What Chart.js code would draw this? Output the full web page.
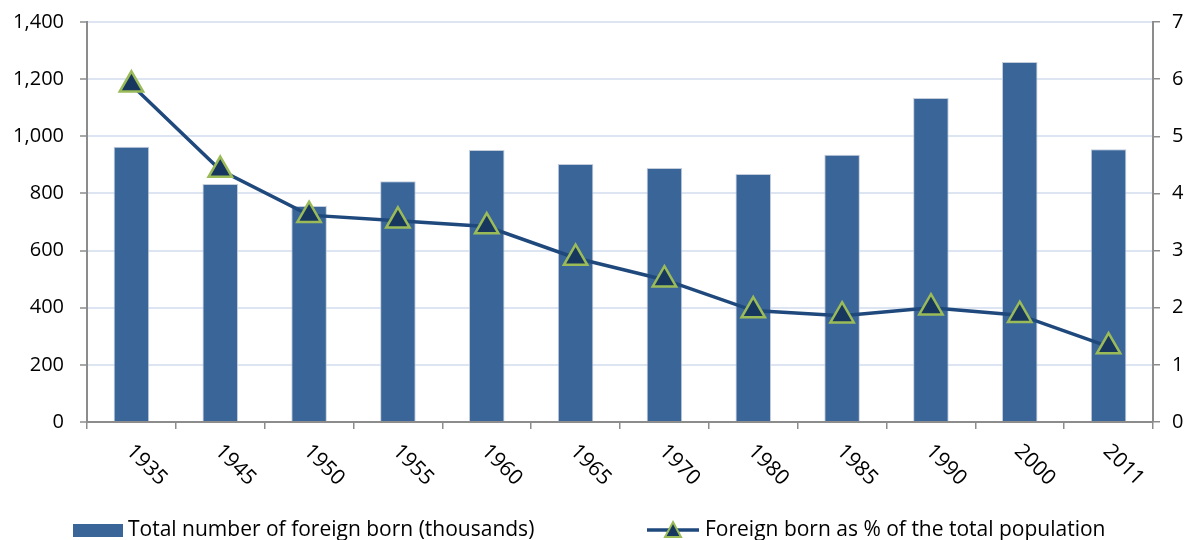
<!DOCTYPE html>
<html>
<head>
<meta charset="utf-8">
<script src="https://cdn.jsdelivr.net/npm/chart.js@4.4.1/dist/chart.umd.min.js"></script>
<style>
  html, body { margin: 0; padding: 0; background: #fff; }
  #wrap { width: 1190px; height: 540px; position: relative; }
</style>
</head>
<body>
<div id="wrap"><canvas id="myChart"></canvas></div>
<script>
// categories and series
var years = ['1935', '1945', '1950', '1955', '1960', '1965', '1970', '1980', '1985', '1990', '2000', '2011'];
var foreignBornThousands = [963, 833, 756, 843, 952, 903, 889, 868, 935, 1134, 1260, 955];
var foreignBornPct = [5.9, 4.41, 3.62, 3.52, 3.42, 2.87, 2.49, 1.95, 1.86, 2.0, 1.87, 1.32];
var leftTicks = [0, 200, 400, 600, 800, 1000, 1200, 1400];
var rightTicks = [0, 1, 2, 3, 4, 5, 6, 7];
var legendLabels = ['Total number of foreign born (thousands)', 'Foreign born as % of the total population'];

const FONT = '"Open Sans", "Noto Sans", sans-serif';
const barColor = '#3A6598';
const lineColor = '#1F497D';
const markerFill = '#17375E';
const markerEdge = '#9BBB59';
const axisGray = '#8C8C8C';

var canvas = document.getElementById('myChart');
var ctx = canvas.getContext('2d');

// rotated x labels (down-right, like the original) + bottom legend
const customDraw = {
    id: 'customDraw',
    afterDraw(chart) {
        const c = chart.ctx;
        const xs = chart.scales.x;
        const area = chart.chartArea;
        c.save();
        c.fillStyle = '#000';
        c.font = '21px ' + FONT;
        c.textAlign = 'left';
        c.textBaseline = 'middle';
        years.forEach((y, i) => {
            const px = xs.getPixelForValue(i);
            c.save();
            c.translate(px - 2, area.bottom + 26);
            c.rotate(Math.PI / 4);
            c.fillText(y, 0, 0);
            c.restore();
        });

        // legend
        const ly = 530;
        c.fillStyle = barColor;
        c.fillRect(73, 524, 50, 13);
        c.fillStyle = '#000';
        c.fillText(legendLabels[0], 128, ly);

        c.strokeStyle = lineColor;
        c.lineWidth = 3.5;
        c.beginPath();
        c.moveTo(647, ly);
        c.lineTo(699, ly);
        c.stroke();
        c.beginPath();
        c.moveTo(673, 522);
        c.lineTo(681, 537);
        c.lineTo(665, 537);
        c.closePath();
        c.fillStyle = markerFill;
        c.fill();
        c.strokeStyle = markerEdge;
        c.lineWidth = 2;
        c.stroke();
        c.fillStyle = '#000';
        c.fillText(legendLabels[1], 705, ly);
        c.restore();
    }
};

const data = {
    labels: years,
    datasets: [{
        type: 'line',
        label: legendLabels[1],
        data: foreignBornPct,
        yAxisID: 'y1',
        borderColor: lineColor,
        borderWidth: 3.5,
        pointStyle: 'triangle',
        pointRadius: 13.5,
        pointBackgroundColor: markerFill,
        pointBorderColor: markerEdge,
        pointBorderWidth: 2.5,
        tension: 0,
        order: 0
    }, {
        type: 'bar',
        label: legendLabels[0],
        data: foreignBornThousands,
        yAxisID: 'y',
        backgroundColor: barColor,
        borderColor: 'rgba(190,200,215,0.9)',
        borderWidth: 1,
        barPercentage: 0.4,
        categoryPercentage: 1,
        order: 1
    }]
};

const config = {
    type: 'bar',
    data: data,
    options: {
        responsive: true,
        maintainAspectRatio: false,
        animation: false,
        layout: { padding: { top: 22, left: 0, right: 0, bottom: 0 } },
        plugins: {
            legend: { display: false },
            tooltip: { enabled: false }
        },
        scales: {
            x: {
                offset: true,
                grid: {
                    offset: true,
                    drawOnChartArea: false,
                    drawTicks: true,
                    tickLength: 7,
                    color: axisGray,
                    lineWidth: 1.5
                },
                border: { color: axisGray, width: 2 },
                ticks: { display: false },
                afterFit: function (scale) { scale.height = 118; }
            },
            y: {
                position: 'left',
                min: 0,
                max: 1400,
                afterBuildTicks: function (scale) { scale.ticks = leftTicks.map(v => ({ value: v })); },
                grid: {
                    color: '#DCE5F1',
                    lineWidth: 2,
                    tickLength: 7,
                    tickColor: axisGray,
                    tickWidth: 1.5
                },
                border: { color: axisGray, width: 2 },
                ticks: {
                    padding: 16,
                    color: '#000',
                    font: { family: FONT, size: 20 },
                    callback: function (v) { return Number(v).toLocaleString('en-US'); }
                },
                afterFit: function (scale) {
                    scale.width = 87;
                    scale.paddingTop = 0;
                    scale.paddingBottom = 0;
                }
            },
            y1: {
                position: 'right',
                min: 0,
                max: 7,
                afterBuildTicks: function (scale) { scale.ticks = rightTicks.map(v => ({ value: v })); },
                grid: {
                    drawOnChartArea: false,
                    tickLength: 7,
                    color: axisGray,
                    lineWidth: 1.5
                },
                border: { color: axisGray, width: 2 },
                ticks: {
                    padding: 12,
                    color: '#000',
                    font: { family: FONT, size: 20 }
                },
                afterFit: function (scale) {
                    scale.width = 37;
                    scale.paddingTop = 0;
                    scale.paddingBottom = 0;
                }
            }
        }
    },
    plugins: [customDraw]
};

new Chart(ctx, config);
</script>
</body>
</html>
